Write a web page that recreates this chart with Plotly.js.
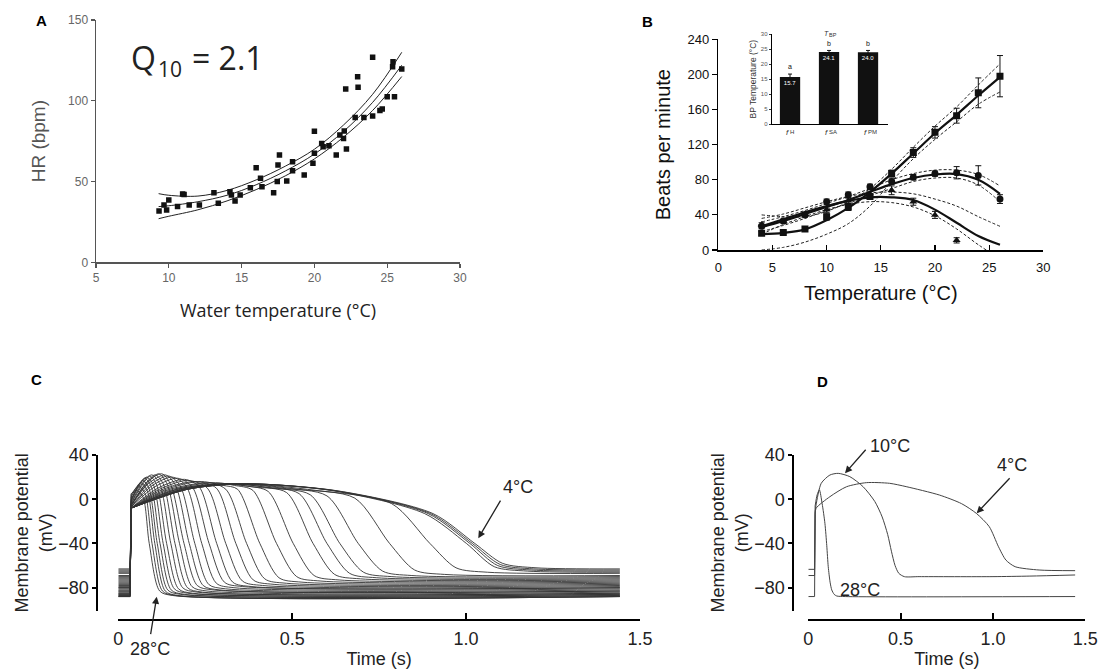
<!DOCTYPE html>
<html>
<head>
<meta charset="utf-8">
<script src="https://cdn.plot.ly/plotly-3.0.1.min.js"></script>
<style>html,body{margin:0;padding:0;background:#fff;}#chart{width:1103px;height:669px;}</style>
</head>
<body>
<div id="chart"></div>
<script>
// ---------- Panel A: heart rate vs water temperature ----------
const aTemp = [9.33, 9.67, 9.85, 10.0, 10.6, 10.95, 11.05, 11.4, 12.1, 13.1, 13.4, 14.2, 14.3, 14.55, 14.9, 15.6, 16.0, 16.3, 16.4, 17.2, 17.45, 17.5, 17.6, 18.1, 18.5, 18.5, 19.3, 19.9, 20.0, 20.0, 20.5, 20.6, 21.0, 21.5, 21.75, 22.0, 22.05, 22.15, 22.2, 22.8, 22.97, 23.0, 23.4, 24.0, 24.0, 24.5, 24.66, 25.0, 25.37, 25.4, 25.5, 26.0];
const aHR   = [31.8, 35.5, 32.4, 38.6, 34.5, 42.3, 42.0, 35.5, 35.5, 43.1, 36.5, 43.7, 41.7, 38.0, 41.7, 46.2, 58.6, 52.0, 46.8, 43.1, 50.0, 60.2, 66.4, 50.3, 62.3, 56.7, 54.0, 61.3, 81.1, 67.5, 73.6, 71.6, 72.2, 66.4, 78.8, 76.7, 81.3, 107.3, 70.1, 89.7, 114.9, 108.3, 89.7, 126.9, 90.6, 93.9, 94.9, 102.5, 121.0, 124.2, 102.5, 119.7];
const aFitT  = [9.3, 10, 12, 14, 16, 18, 20, 22, 24, 26];
const aFit   = [34.5, 35, 37.5, 41.5, 48, 56.5, 67, 81, 99, 122];
const aFitUp = [42.5, 41.5, 41, 44.5, 51, 59.5, 70, 85, 104, 130];
const aFitLo = [27, 28.5, 32.5, 38, 45, 53.5, 64, 77.5, 94, 115];

// ---------- Panel B: beats per minute vs temperature ----------
const bTemp   = [4, 6, 8, 10, 12, 14, 16, 18, 20, 22, 24, 26];
const bSq     = [19, 20, 24, 38, 49, 61, 87, 111, 134, 153, 179, 198];
const bSqErr  = [2, 1.5, 2, 4, 4, 3, 4, 5.5, 6.5, 8.5, 17, 23.5];
const bCi     = [27, 33, 40, 55, 63, 72, 78, 83, 87, 88, 85, 58];
const bCiErr  = [2, 2, 2, 3, 3, 3, 3, 3, 3, 7, 11, 5];
const bTriT   = [4, 6, 8, 10, 12, 14, 16, 18, 20, 22];
const bTri    = [29, 33, 41, 46, 56, 63, 68, 55, 40, 11];
const bTriErr = [2, 2, 2, 3, 3, 4, 5, 4, 4, 3];
const bSqFit  = [18, 19.5, 23.5, 34, 48, 66, 87, 110, 133, 154, 176, 197];
const bSqUp   = [40, 38, 38, 44, 55, 70, 92, 117, 141, 163, 188, 212];
const bSqLo   = [0, 3, 9, 18, 30, 50, 78, 104, 126, 146, 166, 180];
const bCiFit  = [26, 33, 41, 49, 57, 66, 75, 82, 86, 86.5, 80, 64];
const bCiUp   = [32, 38, 45, 53, 61, 70, 80, 87, 91, 91, 86, 73];
const bCiLo   = [21, 28, 36, 45, 53, 62, 70, 78, 82, 82, 74, 55];
const bTriFit = [27, 35, 43, 50, 56, 60, 60, 57, 46, 31, 16, 6];
const bTriUp  = [36, 41, 48, 55, 61, 65, 66, 64, 58, 50, 38, 27];
const bTriLo  = [18, 29, 38, 46, 52, 55, 54, 49, 39, 24, 6, -10];

// inset: break-point temperatures
const bpCat     = [0, 1, 2];
const bpSymbol  = ['<i>f</i>', '<i>f</i>', '<i>f</i>'];
const bpSub     = ['H', 'SA', 'PM'];
const bpVal     = [15.7, 24.1, 24.0];
const bpErr     = [1.0, 0.5, 0.6];
const bpLetters = ['a', 'b', 'b'];

// ---------- Panel C: action potentials 28 °C ... 4 °C ----------
const cCross = [0.089,0.097,0.105,0.112,0.120,0.129,0.139,0.151,0.163,0.176,0.189,0.204,0.220,0.240,0.261,0.283,0.309,0.338,0.369,0.407,0.455,0.503,0.560,0.600,0.637,0.690,0.780,0.896,1.001,1.011,1.018,1.025];
const cRest  = [-88,-88,-88,-87,-87,-86,-86,-85,-85,-84,-83,-83,-82,-81,-80,-80,-79,-78,-77,-76,-75,-74,-73,-72,-71,-70,-69,-67,-66,-65,-64,-63];
const cNotch = [5,4,2,0,-1,-2,-3,-4,-5,-5,-6,-6,-7,-7,-7,-8,-8,-8,-8,-8,-8,-8,-8,-8,-8,-8,-8,-8,-8,-8,-8,-8];
const cEarlyV= [0,0,0,0,0,0,0,0,0,0,15,14,13,12,11,10,9,9,9,9,9,9,9,9,9,9,9,9,9,9,9,9];
const cPeakT = [0.052,0.058,0.064,0.07,0.075,0.08,0.088,0.095,0.105,0.115,0.125,0.135,0.145,0.155,0.17,0.19,0.2,0.22,0.24,0.26,0.28,0.3,0.3,0.32,0.33,0.34,0.35,0.35,0.36,0.36,0.36,0.36];
const cPeakV = [8,12,15,17,19,20,21,22,22,23,23,22,21,20,19,18,17,16,16,15,15,14,14,14,14,14,14,14,14,14,14,14];
const cMidV  = [5,9,12,14,16,17,18,18,18,19,18,18,17,16,15,15,14,13,13,12.5,12.5,12,11,11,10,10,9,8,7.5,7.5,7.5,7.5];
const cFall  = [0.018,0.02,0.022,0.024,0.026,0.028,0.03,0.032,0.034,0.036,0.038,0.04,0.042,0.045,0.048,0.05,0.053,0.056,0.06,0.064,0.068,0.072,0.076,0.08,0.085,0.09,0.1,0.11,0.12,0.12,0.12,0.12];
const cShV   = [2,5,8,10,12,13,14,14,14,14,13,13,12,12,11,11,10,10,9,9,8,7,6,5,4,3,1,-4,-13,-13,-13,-13];
const cFoot  = [0.03,0.03,0.03,0.03,0.032,0.032,0.034,0.034,0.036,0.036,0.038,0.04,0.04,0.042,0.044,0.046,0.048,0.05,0.052,0.055,0.058,0.06,0.062,0.065,0.068,0.07,0.072,0.075,0.08,0.08,0.08,0.08];
const cStimT = [0, 0.034, 0.037];
const cEndT  = 1.442;

// ---------- Panel D: three action potentials ----------
const d28T = [0, 0.034, 0.037, 0.048, 0.06, 0.075, 0.09, 0.1, 0.108, 0.118, 0.127, 0.14, 0.154, 0.2, 1.445];
const d28V = [-88, -88, -6, 4, 8.4, -4, -21.8, -42, -61, -75, -82, -86, -87.5, -88, -88];
const d10T = [0, 0.034, 0.037, 0.042, 0.07, 0.117, 0.162, 0.225, 0.297, 0.36, 0.40, 0.43, 0.45, 0.47, 0.49, 0.52, 0.6, 1.0, 1.2, 1.445];
const d10V = [-69, -69, -12, -5.2, 14.4, 21.9, 23.4, 20.4, 11.3, -2, -16, -32, -47, -60, -67, -70, -70, -70, -69.5, -68.5];
const d4T  = [0, 0.034, 0.037, 0.042, 0.117, 0.207, 0.315, 0.44, 0.53, 0.71, 0.83, 0.91, 0.98, 1.03, 1.07, 1.12, 1.25, 1.445];
const d4V  = [-63.4, -63.4, -14, -8.2, 2.3, 11.3, 15, 14.4, 11.4, 3.8, -4, -12.8, -24.8, -43, -55, -61, -64, -64.6];

// ---------- helpers (pixel -> paper) ----------
const W = 1103, H = 669;
const PX = x => x / W;
const PY = y => 1 - y / H;
const ARIAL = 'Liberation Sans, Arial, sans-serif';

const traces = [];
// Panel A
traces.push({x: aFitT, y: aFitUp, xaxis:'x', yaxis:'y', mode:'lines', line:{color:'#222', width:1, shape:'spline'}, hoverinfo:'skip'});
traces.push({x: aFitT, y: aFit,   xaxis:'x', yaxis:'y', mode:'lines', line:{color:'#222', width:1, shape:'spline'}, hoverinfo:'skip'});
traces.push({x: aFitT, y: aFitLo, xaxis:'x', yaxis:'y', mode:'lines', line:{color:'#222', width:1, shape:'spline'}, hoverinfo:'skip'});
traces.push({x: aTemp, y: aHR, xaxis:'x', yaxis:'y', mode:'markers', marker:{symbol:'square', size:5.5, color:'#111'}});

// Panel B dashed confidence bands
[[bSqUp,bSqLo],[bCiUp,bCiLo],[bTriUp,bTriLo]].forEach(p => {
  p.forEach(arr => traces.push({x: bTemp, y: arr, xaxis:'x2', yaxis:'y2', mode:'lines',
    line:{color:'#222', width:1, dash:'3px,2px', shape:'spline'}, hoverinfo:'skip'}));
});
// Panel B fits
[bSqFit, bCiFit, bTriFit].forEach(arr => traces.push({x: bTemp, y: arr, xaxis:'x2', yaxis:'y2', mode:'lines',
  line:{color:'#111', width:2.2, shape:'spline'}, hoverinfo:'skip'}));
// Panel B data points
const eb = a => ({type:'data', array:a, visible:true, color:'#111', thickness:1, width:3});
traces.push({x: bTriT, y: bTri, xaxis:'x2', yaxis:'y2', mode:'markers', marker:{symbol:'triangle-up', size:7, color:'#111'}, error_y: eb(bTriErr)});
traces.push({x: bTemp, y: bCi, xaxis:'x2', yaxis:'y2', mode:'markers', marker:{symbol:'circle', size:7, color:'#111'}, error_y: eb(bCiErr)});
traces.push({x: bTemp, y: bSq, xaxis:'x2', yaxis:'y2', mode:'markers', marker:{symbol:'square', size:7, color:'#111'}, error_y: eb(bSqErr)});

// Inset bars
traces.push({type:'bar', x: bpCat, y: bpVal, xaxis:'x3', yaxis:'y3', width:0.52,
  marker:{color:'#111'}, error_y:{type:'data', array:bpErr, visible:true, color:'#111', thickness:1, width:2},
  text: bpVal.map(v => v.toFixed(1)), textposition:'inside', insidetextanchor:'end', textangle:0,
  textfont:{color:'#fff', size:6, family:ARIAL}, constraintext:'none', cliponaxis:false});
traces.push({x: bpCat, y: bpVal.map((v,i) => v + bpErr[i] + 2.2), xaxis:'x3', yaxis:'y3', mode:'text',
  text: bpLetters, textfont:{size:7, color:'#111', family:ARIAL}, cliponaxis:false, hoverinfo:'skip'});

// Panel C traces: straight stimulus/upstroke part, then smooth action potential
for (let i = 0; i < cCross.length; i++) {
  const r = cRest[i];
  traces.push({x: cStimT, y: [r, r, cNotch[i]], xaxis:'x4', yaxis:'y4', mode:'lines',
    line:{color:'#333', width:0.9}, hoverinfo:'skip'});
  const t = [cStimT[2]], v = [cNotch[i]];
  if (cEarlyV[i] !== 0) { t.push((cStimT[2] + cPeakT[i]) / 2); v.push(cEarlyV[i]); }
  t.push(cPeakT[i]); v.push(cPeakV[i]);
  const sT = cCross[i] - cFall[i];
  if (sT - cPeakT[i] > 0.08) { t.push((cPeakT[i] + sT) / 2); v.push(cMidV[i]); }
  if (sT > cPeakT[i] + 0.008) { t.push(sT); v.push(cShV[i]); }
  t.push(cCross[i]); v.push(-40);
  t.push(cCross[i] + cFoot[i]); v.push(r + 5);
  t.push(cCross[i] + 2.2 * cFoot[i]); v.push(r + 1);
  t.push(cEndT); v.push(r);
  traces.push({x: t, y: v, xaxis:'x4', yaxis:'y4', mode:'lines',
    line:{color:'#333', width:0.9, shape:'spline', smoothing:0.8}, hoverinfo:'skip'});
}
// Panel D traces
[[d28T,d28V],[d10T,d10V],[d4T,d4V]].forEach(p => {
  traces.push({x:p[0].slice(0,3), y:p[1].slice(0,3), xaxis:'x5', yaxis:'y5', mode:'lines',
    line:{color:'#444', width:1}, hoverinfo:'skip'});
  traces.push({x:p[0].slice(2), y:p[1].slice(2), xaxis:'x5', yaxis:'y5', mode:'lines',
    line:{color:'#444', width:1, shape:'spline', smoothing:0.7}, hoverinfo:'skip'});
});

// ---------- axes ----------
function ax(o) {
  return Object.assign({showgrid:false, zeroline:false, showline:true, linecolor:'#000', linewidth:1.5,
    ticks:'outside', ticklen:4, tickcolor:'#000', tickwidth:1.2, automargin:false, fixedrange:true}, o);
}
const titleFontC = {family: ARIAL, size: 18, color: '#222'};
const layout = {
  width: W, height: H, margin: {l:0, r:0, t:0, b:0}, showlegend: false,
  paper_bgcolor: '#fff', plot_bgcolor: 'rgba(0,0,0,0)',
  font: {family: ARIAL, color: '#222'},
  // A
  xaxis: ax({domain:[PX(96), PX(460)], range:[5,30], dtick:5, anchor:'y', linecolor:'#555', tickcolor:'#555',
    tickfont:{family:ARIAL, size:12, color:'#666'},
    title:{text:'Water temperature (°C)', font:{family:'Open Sans', size:18, color:'#222'}, standoff:20}}),
  yaxis: ax({domain:[PY(262.3), PY(20)], range:[0,150], dtick:50, anchor:'x', linecolor:'#555', tickcolor:'#555',
    tickfont:{family:ARIAL, size:12, color:'#666'},
    title:{text:'HR (bpm)', font:{family:ARIAL, size:19, color:'#555'}, standoff:17}}),
  // B
  xaxis2: ax({domain:[PX(718.3), PX(1043.3)], range:[0,30], dtick:5, anchor:'y2', ticks:'inside', ticklen:5,
    ticklabelstandoff:5, tickfont:{family:ARIAL, size:13, color:'#111'},
    title:{text:'Temperature (°C)', font:{family:ARIAL, size:20, color:'#111'}, standoff:12}}),
  yaxis2: ax({domain:[PY(250), PY(39.3)], range:[0,240], dtick:40, anchor:'x2', ticklen:5,
    tickfont:{family:ARIAL, size:13, color:'#111'},
    title:{text:'Beats per minute', font:{family:ARIAL, size:20, color:'#111'}, standoff:11}}),
  // B inset
  xaxis3: ax({domain:[PX(771.7), PX(888.3)], range:[-0.47,2.52], tickvals:bpCat, ticktext:bpSymbol, anchor:'y3',
    ticks:'', linewidth:1, ticklabelshift:-3, tickfont:{family:ARIAL, size:8, color:'#333'}}),
  yaxis3: ax({domain:[PY(124), PY(34.3)], range:[0,30], dtick:5, anchor:'x3', linewidth:1, ticklen:2, tickwidth:0.8,
    tickfont:{family:ARIAL, size:6, color:'#555'},
    title:{text:'BP Temperature (°C)', font:{family:ARIAL, size:8.5, color:'#333'}, standoff:2}}),
  // C
  xaxis4: ax({domain:[PX(118.3), PX(640)], range:[0,1.5], tickvals:[0,0.5,1,1.5], ticktext:['0','0.5','1.0','1.5'],
    anchor:'free', position:PY(620), ticks:'inside', ticklen:6, linewidth:2, tickwidth:2, ticklabelstandoff:2,
    tickfont:titleFontC, title:{text:'Time (s)', font:titleFontC, standoff:4}}),
  yaxis4: ax({domain:[PY(610.7), PY(455)], range:[-100.8,40], tickvals:[-80,-40,0,40], ticktext:['−80','−40','0','40'],
    anchor:'free', position:PX(97.3), linewidth:2, tickwidth:2, ticklen:4,
    tickfont:titleFontC, title:{text:'Membrane potential<br>(mV)', font:titleFontC, standoff:0}}),
  // D
  xaxis5: ax({domain:[PX(808.3), PX(1085.3)], range:[0,1.5], tickvals:[0,0.5,1,1.5], ticktext:['0','0.5','1.0','1.5'],
    anchor:'free', position:PY(620), ticks:'inside', ticklen:6, linewidth:2, tickwidth:2, ticklabelstandoff:2,
    tickfont:titleFontC, title:{text:'Time (s)', font:titleFontC, standoff:4}}),
  yaxis5: ax({domain:[PY(610.7), PY(455)], range:[-100.8,40], tickvals:[-80,-40,0,40], ticktext:['−80','−40','0','40'],
    anchor:'free', position:PX(793.3), linewidth:2, tickwidth:2, ticklen:4,
    tickfont:titleFontC, title:{text:'Membrane potential<br>(mV)', font:titleFontC, standoff:0}}),
  annotations: []
};

const A = layout.annotations;
const note = (t, x, y, font, xa, ya) => A.push({text:t, x:PX(x), y:PY(y), xref:'paper', yref:'paper', showarrow:false,
  font:font, xanchor:xa || 'center', yanchor:ya || 'middle'});
const labFont = {family:ARIAL, size:15, color:'#000'};
note('<b>A</b>', 41.7, 20, labFont); note('<b>B</b>', 647, 22, labFont);
note('<b>C</b>', 36, 379, labFont);  note('<b>D</b>', 822, 382, labFont);
// Q10 = 2.1 (subscript drawn as its own smaller text)
const qFont = {family:'Open Sans', size:32, color:'#222'};
note('Q', 129, 57, qFont, 'left');
note('10', 155.5, 68.5, {family:'Open Sans', size:21, color:'#222'}, 'left');
note('= 2.1', 190, 57, qFont, 'left');
// inset title T_BP
note('<i>T</i>', 826.5, 33, {family:ARIAL, size:7, color:'#333'});
note('BP', 827.2, 35, {family:ARIAL, size:5.5, color:'#333'}, 'left');
// inset category subscripts
bpSub.forEach((s, i) => A.push({text:s, x:bpCat[i], xref:'x3', y:PY(132), yref:'paper', xshift:-2.5, showarrow:false,
  font:{family:ARIAL, size:6, color:'#333'}, xanchor:'left', yanchor:'middle'}));
// labelled arrows: head at (hx,hy), text anchored at (tx,ty)
const arrowLabel = (t, hx, hy, tx, ty, xa, ya, gap) => A.push({text:t, x:PX(hx), y:PY(hy), xref:'paper', yref:'paper',
  showarrow:true, ax: tx - hx, ay: ty - hy, xanchor:xa, yanchor:ya, font:titleFontC, borderpad:0,
  arrowhead:2, arrowsize:1.1, arrowwidth:1.3, arrowcolor:'#222', startstandoff:gap});
// C labels
arrowLabel('4°C', 478.3, 538.3, 502, 498, 'left', 'bottom', 3);
arrowLabel('28°C', 156.7, 596.7, 150, 638, 'center', 'top', 4);
// D labels
arrowLabel('10°C', 845, 473.3, 869, 446, 'left', 'middle', 5);
arrowLabel('4°C', 976.7, 513.3, 1011.7, 476, 'center', 'bottom', 3);
note('28°C', 860, 590, titleFontC);

Plotly.newPlot('chart', traces, layout, {staticPlot:true, displayModeBar:false});
</script>
</body>
</html>
